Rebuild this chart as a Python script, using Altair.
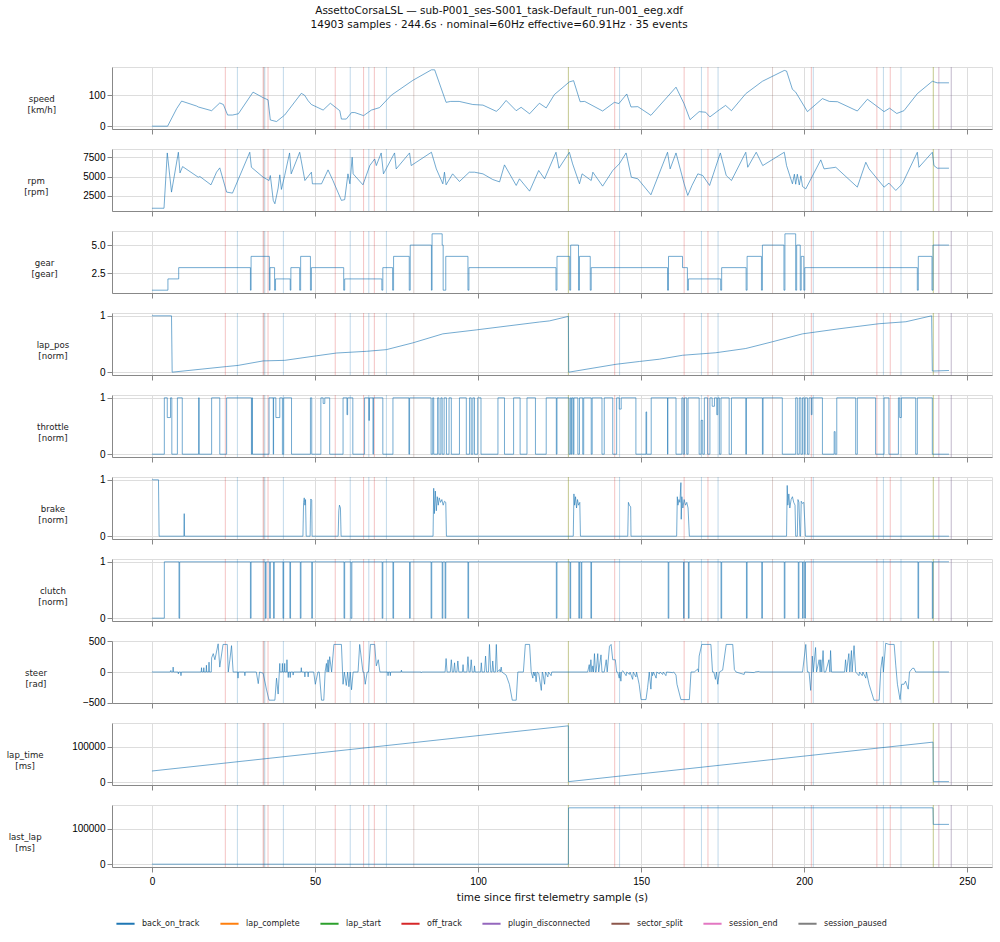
import altair as alt
import pandas as pd

FONT = "DejaVu Sans"
LINE_COLOR = "#1f77b4"

TITLE = "AssettoCorsaLSL — sub-P001_ses-S001_task-Default_run-001_eeg.xdf"
SUBTITLE = "14903 samples · 244.6s · nominal=60Hz effective=60.91Hz · 35 events"
X_TITLE = "time since first telemetry sample (s)"
X_TICKS = [0, 50, 100, 150, 200, 250]
X_DOMAIN = [-12.25, 257.6]

EVENT_TYPES = ["back_on_track", "lap_complete", "lap_start", "off_track",
               "plugin_disconnected", "sector_split", "session_end", "session_paused"]
EVENT_COLORS = ["#1f77b4", "#ff7f0e", "#2ca02c", "#d62728",
                "#9467bd", "#8c564b", "#e377c2", "#7f7f7f"]

event_t = [22.5, 26.2, 34.1, 34.3, 34.6, 35.6, 40.3, 56.2, 60.8, 64.9, 66.5, 68.2,
           71.9, 80.3, 127.7, 127.7, 141.9, 143.4, 163.2, 168.5, 170.5,
           173.6, 190.3, 202.2, 202.8, 222.3, 224.3, 226.4, 229.7, 239.6, 239.6,
           241.3, 241.3, 245.1, 245.1]
event_type = ["off_track", "back_on_track", "off_track", "sector_split", "back_on_track",
              "off_track", "back_on_track", "off_track", "back_on_track", "off_track",
              "back_on_track", "off_track", "back_on_track", "sector_split",
              "lap_complete", "lap_start", "off_track", "back_on_track",
              "off_track", "back_on_track", "off_track", "back_on_track", "sector_split",
              "off_track", "back_on_track", "off_track", "back_on_track", "off_track",
              "back_on_track", "lap_complete", "lap_start",
              "session_paused", "session_end", "plugin_disconnected", "session_paused"]

speed_t = [0, 4.8, 7.6, 9.1, 13.7, 14.2, 18.3, 20.8, 21.9, 23.2, 24.7, 26.5, 31.0, 34.1,
           35.6, 36.3, 38.2, 40.7, 45.8, 46.8, 47.9, 48.9, 52.5, 54.7, 57.6, 58.1, 59.6,
           61.2, 62.2, 64.9, 67.3, 69.8, 73.4, 80.0, 85.7, 86.7, 90.2, 91.6, 94.2, 98.4,
           101.5, 105.6, 106.6, 108.6, 111.7, 113.2, 115.8, 118.8, 120.9, 123.4, 128.0,
           129.3, 131.3, 132.7, 138.2, 141.8, 143.2, 145.6, 146.9, 149.0, 153.0, 160.7,
           163.2, 165.0, 167.8, 169.8, 171.1, 174.0, 175.9, 177.7, 182.1, 187.2, 193.9,
           194.6, 196.4, 197.4, 201.0, 205.6, 207.7, 210.2, 216.3, 219.4, 224.5, 226.2,
           228.4, 230.6, 234.7, 239.3, 240.8, 244.4]
speed_v = [0, 0, 57, 81, 65, 62, 50, 75, 70, 36, 36, 40, 110, 92, 85, 20, 15, 36, 106,
           100, 82, 70, 52, 74, 50, 23, 23, 44, 44, 34, 52, 60, 100, 148, 182, 182, 77,
           80, 80, 70, 68, 48, 57, 83, 50, 61, 40, 74, 59, 102, 143, 147, 79, 80, 49, 77,
           73, 104, 62, 63, 35, 126, 72, 21, 47, 45, 30, 53, 67, 50, 105, 145, 180, 178,
           119, 110, 47, 89, 80, 79, 49, 87, 47, 58, 41, 50, 105, 145, 140, 140]

rpm_pts = [(0, 880), (3.7, 880), (4.7, 8060), (6.0, 2975), (8.1, 8150), (8.6, 5470),
           (9.4, 6290), (14.2, 4910), (14.7, 5000), (18.1, 3920), (19.8, 5560),
           (20.8, 6120), (22.9, 2975), (24.7, 2845), (30.0, 8150), (30.5, 6200),
           (34.1, 4910), (35.9, 4480), (36.3, 5130), (37.2, 1900), (37.7, 1460),
           (38.7, 3500), (39.2, 5215), (39.7, 3320), (40.7, 5130), (42.2, 8060),
           (42.7, 5345), (45.3, 8150), (46.9, 4480), (48.9, 5560), (49.2, 4050),
           (52.0, 4050), (54.0, 5860), (55.5, 4480), (58.1, 1900), (59.1, 2000),
           (60.1, 5345), (60.7, 4050), (61.4, 7500), (61.7, 5345), (64.7, 3920),
           (66.8, 6420), (68.3, 7280), (68.8, 6420), (70.3, 8060), (71.0, 5345),
           (74.4, 8060), (74.9, 5990), (79.0, 8060), (79.5, 6420), (85.7, 8150),
           (87.2, 5990), (89.2, 4050), (89.7, 5560), (90.2, 3920), (92.2, 5345),
           (94.3, 4350), (97.3, 5560), (98.9, 5560), (101.5, 5345), (104.5, 4610),
           (106.6, 4300), (108.1, 6510), (111.7, 3840), (112.7, 4700), (115.8, 3100),
           (118.6, 5780), (120.4, 4700), (123.9, 8150), (124.8, 6080), (128.0, 8150),
           (129.0, 6640), (131.1, 4050), (131.9, 5345), (134.7, 4480), (135.2, 5560),
           (138.2, 3750), (141.3, 5780), (143.3, 6640), (145.4, 8060), (147.0, 4910),
           (149.0, 4700), (153.0, 2630), (158.1, 8150), (158.9, 5990), (160.7, 8060),
           (163.2, 4050), (164.3, 2540), (165.6, 3840), (167.4, 5345), (168.9, 5130),
           (171.0, 3840), (174.3, 8060), (176.1, 5130), (177.7, 4480), (182.1, 8150),
           (182.7, 6200), (185.3, 8150), (187.3, 6420), (193.9, 8150), (194.6, 6420),
           (196.4, 4050), (197.0, 5300), (197.4, 4000), (197.9, 5300), (198.5, 3900),
           (199.0, 5100), (199.5, 3700), (200.5, 3400), (205.1, 7160), (206.1, 5990),
           (209.7, 6200), (216.3, 3620), (218.9, 6850), (219.9, 5990), (224.5, 3620),
           (226.0, 4140), (228.1, 3190), (230.1, 4050), (234.7, 8150), (235.2, 6200),
           (239.3, 8150), (239.8, 6420), (240.8, 6080), (244.4, 6080)]

gear_pts = [(0, 1), (4.9, 2), (8.2, 3), (30.2, 1), (30.4, 4), (36.0, 1), (36.2, 3),
            (37.6, 1), (37.9, 2), (42.4, 1), (42.6, 3), (45.3, 1), (45.6, 4), (48.6, 1),
            (48.9, 3), (58.8, 1), (59.1, 2), (70.5, 1), (70.8, 3), (73.8, 1), (74.1, 4),
            (78.9, 1), (79.2, 5), (85.7, 1), (85.9, 6), (89.0, 5), (89.3, 1), (90.1, 4),
            (96.9, 1), (97.2, 3), (123.9, 1), (124.2, 4), (128.1, 1), (128.4, 5),
            (130.8, 1), (131.1, 4), (134.4, 1), (134.7, 3), (158.1, 1), (158.4, 4),
            (162.7, 3), (164.2, 1), (164.5, 2), (174.4, 1), (174.7, 3), (182.2, 1),
            (182.5, 4), (186.9, 1), (187.2, 5), (193.8, 1), (194.1, 6), (197.4, 1),
            (197.7, 5), (198.8, 1), (199.1, 4), (199.9, 1), (200.2, 3), (234.7, 1),
            (235.0, 4), (239.2, 1), (239.5, 5), (244.4, 5)]

lap_pos_pts = [(0, 1.0), (6.0, 1.0), (6.2, 0.0), (22.9, 0.10), (26.4, 0.12), (34.1, 0.20),
               (40.7, 0.21), (50.4, 0.29), (56.6, 0.34), (65.8, 0.37), (71.9, 0.40),
               (80.0, 0.52), (89.2, 0.68), (99.4, 0.75), (118.8, 0.89), (121.9, 0.91),
               (127.7, 0.99), (127.8, 0.0), (142.3, 0.14), (149.5, 0.19), (155.6, 0.23),
               (162.7, 0.30), (172.9, 0.345), (182.1, 0.42), (190.3, 0.54), (199.5, 0.68),
               (210.7, 0.77), (223.0, 0.86), (231.2, 0.895), (239.1, 1.0), (239.3, 0.02),
               (244.4, 0.03)]

throttle_pts = [(0, 0), (3.8, 1), (4.7, 0.65), (5.7, 1), (6.1, 0), (7.8, 1), (9.3, 0),
                (14.3, 1), (14.5, 0), (18.3, 1), (20.8, 0), (22.9, 1), (30.5, 0), (30.7, 1),
                (30.8, 0), (35.9, 1), (37.2, 0), (37.3, 1), (38.0, 0.65), (39.2, 1),
                (40.0, 0), (40.4, 1), (42.8, 0), (48.6, 1), (49.0, 0), (51.8, 1),
                (52.5, 0.9), (53.0, 1), (54.5, 0), (58.6, 1), (59.8, 0.7), (60.0, 1),
                (61.6, 0), (65.2, 1), (66.5, 0.6), (66.7, 1), (67.8, 0), (67.9, 1),
                (70.8, 0), (73.9, 1), (78.8, 0), (79.0, 1), (85.6, 0), (86.1, 1),
                (86.4, 0), (87.6, 1), (88.0, 0), (88.6, 1), (89.0, 0), (89.6, 1),
                (90.3, 0), (91.1, 1), (91.8, 0), (94.3, 1), (96.4, 0), (97.4, 1),
                (97.9, 0), (98.4, 1), (98.9, 0), (99.9, 1), (100.9, 0), (106.1, 1),
                (108.1, 0), (110.9, 1), (112.9, 0), (115.0, 1), (117.6, 0), (120.9, 1),
                (124.0, 0), (124.2, 1), (127.9, 0), (128.3, 1), (128.6, 0), (128.8, 1),
                (129.2, 0), (129.4, 1), (130.6, 0), (131.1, 1), (132.1, 0), (132.4, 1),
                (134.7, 0), (135.0, 1), (138.0, 0), (138.7, 1), (141.3, 0), (142.5, 1),
                (143.3, 0.8), (143.9, 1), (148.4, 0), (151.5, 0.75), (151.7, 0),
                (153.1, 1), (158.1, 0), (158.2, 1), (160.7, 0), (162.5, 1), (162.9, 0),
                (163.3, 1), (164.0, 0), (164.4, 1), (167.8, 0), (168.4, 0.6), (168.9, 0),
                (169.4, 1), (170.4, 0), (171.1, 1), (171.8, 0.85), (172.5, 1),
                (173.2, 0.7), (173.5, 1), (174.0, 0), (174.5, 1), (177.0, 0), (177.7, 1),
                (182.1, 0), (182.3, 1), (187.2, 0), (187.4, 1), (193.3, 0), (197.4, 1),
                (197.9, 0), (198.5, 1), (199.0, 0), (199.5, 1), (200.0, 0), (200.3, 1),
                (201.0, 0), (201.5, 1), (202.2, 0.7), (202.4, 1), (205.6, 0),
                (209.2, 0.4), (209.5, 0), (210.0, 1), (215.8, 0), (216.3, 1), (221.9, 0),
                (224.5, 1), (226.0, 0), (228.9, 1), (229.3, 0.65), (229.8, 1), (234.2, 0),
                (234.7, 1), (239.3, 0), (244.4, 0)]

brake_pts = [(0, 1.0), (2.0, 1.0), (2.2, 0), (9.8, 0), (9.9, 0.4), (10.0, 0), (46.3, 0),
             (46.5, 0.6), (46.7, 0.68), (46.9, 0.55), (47.1, 0.65), (47.3, 0), (48.5, 0),
             (48.7, 0.66), (49.0, 0.64), (49.1, 0), (57.1, 0), (57.3, 0.45), (57.5, 0.55),
             (57.8, 0.5), (58.0, 0), (86.2, 0), (86.4, 0.85), (86.6, 0.4), (86.9, 0.8),
             (87.2, 0.45), (87.5, 0.7), (87.8, 0.55), (88.1, 0.68), (88.5, 0.6),
             (88.9, 0.65), (89.3, 0.55), (89.7, 0.62), (90.1, 0.6), (90.3, 0),
             (129.2, 0), (129.4, 0.75), (129.6, 0.55), (129.9, 0.7), (130.2, 0.5),
             (130.5, 0.65), (130.8, 0.55), (131.2, 0.6), (131.4, 0), (145.9, 0),
             (146.1, 0.6), (146.4, 0.55), (146.8, 0.52), (146.9, 0), (160.9, 0),
             (161.1, 0.7), (161.3, 0.55), (161.6, 0.65), (161.9, 0.6), (162.2, 0.95),
             (162.3, 0.3), (162.5, 0.7), (162.8, 0.5), (163.2, 0.65), (163.6, 0.55),
             (164.0, 0.6), (164.4, 0.5), (164.8, 0), (194.6, 0), (194.8, 0.9),
             (195.0, 0.55), (195.3, 0.75), (195.6, 0.5), (196.0, 0.65), (196.4, 0.7),
             (196.8, 0.6), (197.2, 0.55), (197.4, 0), (197.9, 0), (198.1, 0.65),
             (198.4, 0.6), (198.7, 0), (198.9, 0), (199.1, 0.62), (199.5, 0.58),
             (199.9, 0.6), (200.4, 0), (244.4, 0)]

clutch_pts = [(0, 0), (3.8, 1), (8.3, 0), (8.5, 1), (30.2, 0), (30.4, 1), (34.8, 0),
              (35.0, 1), (36.1, 0), (36.3, 1), (37.3, 0), (37.5, 1), (40.2, 0), (40.4, 1),
              (42.3, 0), (42.5, 1), (45.5, 0), (45.7, 1), (49.0, 0), (49.2, 1), (58.9, 0),
              (59.1, 1), (61.0, 0), (61.3, 1), (70.6, 0), (70.8, 1), (73.9, 0), (74.1, 1),
              (79.0, 0), (79.2, 1), (85.6, 0), (85.8, 1), (89.0, 0), (89.2, 1), (89.9, 0),
              (90.1, 1), (96.9, 0), (97.1, 1), (124.0, 0), (124.2, 1), (128.2, 0),
              (128.4, 1), (130.9, 0), (131.1, 1), (131.6, 0), (131.8, 1), (134.6, 0),
              (134.8, 1), (158.3, 0), (158.5, 1), (163.0, 0), (163.2, 1), (164.5, 0),
              (164.7, 1), (174.5, 0), (174.7, 1), (182.3, 0), (182.5, 1), (187.0, 0),
              (187.2, 1), (193.9, 0), (194.1, 1), (198.2, 0), (198.4, 1), (199.5, 0),
              (199.7, 1), (200.2, 0), (200.4, 1), (234.9, 0), (235.1, 1), (239.3, 0),
              (239.5, 1), (244.4, 1)]

steer_pts = [(0, 0), (5.6, 0), (5.8, 25), (5.9, 0), (6.4, 0), (6.5, 80), (6.6, 0), (8.0, 0),
             (8.1, -30), (8.2, 0), (8.8, 0), (8.9, -60), (9.0, 0), (15.1, 0), (15.2, 70),
             (15.3, 0), (15.8, 0), (15.9, 70), (16.0, 0), (16.6, 0), (16.7, 110), (16.8, 0),
             (17.4, 0), (17.5, 160), (17.6, 0), (18.2, 0), (18.3, 230), (18.8, 300),
             (19.3, 200), (20.3, 460), (20.8, 80), (21.8, 450), (23.1, 450), (23.4, 0),
             (23.9, 200), (24.4, 430), (24.9, 0), (26.3, 0), (26.4, -100), (26.5, 0),
             (28.4, 0), (28.5, -60), (28.6, 0), (32.0, 0), (32.6, -190), (33.0, 0),
             (34.1, -20), (35.1, -280), (35.9, -460), (37.7, -460), (38.2, -100),
             (38.7, -360), (39.2, 140), (39.3, 0), (39.9, 0), (40.0, 140), (40.1, 0),
             (40.6, 0), (40.7, 140), (40.8, 0), (41.3, 0), (41.4, 200), (41.5, 0),
             (41.7, 0), (41.8, -90), (41.9, 0), (42.3, 0), (42.4, -90), (42.5, 0),
             (43.2, 0), (43.3, -50), (43.4, 0), (45.7, 0), (45.8, 70), (45.9, 0),
             (46.8, 0), (46.9, -80), (47.0, 0), (47.8, 0), (47.9, -80), (48.0, 0),
             (49.6, 0), (50.1, -200), (50.9, 0), (51.3, 0), (52.0, -460), (52.7, -460),
             (53.1, 0), (53.5, 140), (53.7, 0), (54.0, 200), (54.2, 0), (54.5, 250),
             (55.1, 0), (55.8, 450), (58.1, 450), (58.6, -200), (59.0, 0), (59.6, -220),
             (60.0, 0), (60.4, -240), (60.8, 0), (61.2, -290), (61.7, 0), (63.2, 0),
             (63.7, 450), (64.7, 0), (65.0, 0), (65.4, -200), (66.0, 0), (66.4, 0),
             (67.0, 450), (68.3, 450), (68.8, 100), (69.4, 200), (69.9, 0), (72.3, 0),
             (72.4, -60), (72.5, 0), (73.0, 0), (73.1, -60), (73.2, 0), (76.4, 0),
             (76.5, 30), (76.6, 0), (82.5, 0), (82.6, -10), (82.7, 0), (89.9, 0),
             (90.2, 220), (90.5, 0), (91.5, 0), (91.8, 200), (92.1, 0), (92.5, 0),
             (92.8, 150), (93.0, 0), (93.5, 0), (93.8, 180), (94.1, 0), (95.2, 0),
             (95.4, 120), (95.6, 0), (96.6, 0), (96.9, 250), (97.2, 0), (97.6, 0),
             (97.9, 200), (98.2, 0), (98.8, 0), (98.9, 100), (99.1, 0), (100.8, 0),
             (101.0, 150), (101.2, 0), (102.0, 0), (102.3, 260), (102.6, 0), (103.2, 0),
             (103.5, 450), (103.9, 0), (104.3, 0), (104.5, 180), (104.8, 0), (105.3, 0),
             (105.6, 450), (105.9, 0), (106.6, 40), (106.8, 0), (107.1, 80), (107.3, 0),
             (108.6, -50), (109.6, -200), (110.5, -460), (111.7, -460), (112.2, 0),
             (113.9, 0), (114.5, 450), (115.8, 450), (116.3, 0), (116.8, -100),
             (117.0, 0), (117.3, -60), (117.5, 0), (117.8, -160), (118.1, 0),
             (118.6, -20), (119.4, -300), (119.7, 0), (119.9, -30), (120.4, -200),
             (120.7, 0), (121.4, -80), (121.6, 0), (122.4, -60), (122.6, 0), (133.6, 0),
             (134.1, 120), (134.3, 0), (134.6, 200), (134.9, 0), (135.2, 100), (135.4, 0),
             (135.7, 300), (136.0, 0), (136.2, 0), (136.7, 300), (137.0, 0), (137.7, 280),
             (138.0, 0), (138.7, 0), (139.3, 200), (139.6, 0), (140.3, 420), (140.8, 450),
             (141.3, 200), (142.1, 200), (142.5, 0), (142.8, 0), (143.3, -100),
             (143.5, 0), (143.8, -150), (144.0, 0), (144.4, 20), (145.4, -60),
             (145.6, 0), (146.4, -40), (146.6, 0), (147.4, -120), (147.6, 0),
             (148.4, -80), (148.6, 0), (149.4, -200), (150.0, -450), (151.5, -450),
             (152.0, -250), (152.5, 0), (153.0, -280), (153.3, 0), (153.5, -60),
             (153.8, 0), (154.6, -100), (154.8, 0), (155.6, -30), (155.8, 0),
             (156.6, -40), (156.8, 0), (157.6, -60), (157.8, 0), (159.7, -10),
             (160.0, 0), (160.7, -50), (161.0, -200), (162.2, -450), (164.8, -450),
             (165.3, 0), (166.3, 0), (167.4, 50), (167.6, 0), (167.8, 260), (168.6, 450),
             (171.4, 450), (171.9, 0), (172.3, 0), (172.8, -120), (173.1, 0),
             (173.5, -200), (174.0, 0), (175.0, 30), (176.1, 450), (178.1, 450),
             (178.6, 40), (179.1, 0), (181.6, -40), (181.8, 0), (184.7, -10), (184.9, 0),
             (186.2, 10), (186.4, 0), (199.5, 0), (200.5, 450), (201.0, 0), (201.5, 0),
             (202.0, -300), (202.3, 0), (202.5, 260), (202.8, 0), (203.5, 400),
             (203.8, 0), (204.6, 200), (204.9, 0), (205.1, 200), (205.4, 0),
             (205.8, 350), (206.1, 0), (206.6, 0), (207.6, 200), (207.9, 0),
             (208.1, 350), (208.4, 0), (212.4, 0), (212.7, 200), (213.0, 0),
             (213.7, 300), (214.0, 0), (214.5, 350), (214.7, 0), (215.3, 430),
             (215.8, 0), (216.8, -60), (217.0, 0), (217.8, -60), (218.0, 0),
             (218.9, -100), (219.1, 0), (219.9, -200), (221.4, -460), (223.0, -460),
             (223.5, 50), (224.0, 250), (224.3, 0), (225.0, 470), (226.0, 450),
             (227.6, 450), (228.1, 100), (228.6, -200), (229.4, -450), (229.9, -200),
             (230.6, -200), (231.1, -150), (231.9, -280), (232.3, 0), (233.2, 60),
             (233.7, 60), (234.2, 0), (244.4, 0)]

lap_time_pts = [(0, 31500), (127.7, 159000), (127.75, 1500), (239.5, 113000),
                (239.6, 1500), (244.4, 1500)]
last_lap_pts = [(0, 0), (127.7, 0), (127.75, 158500), (239.5, 158500),
                (239.6, 111900), (244.4, 111900)]

# name, unit, points, interpolation, y-domain, y-ticks, tick format
PANELS = [
    ("speed", "km/h", list(zip(speed_t, speed_v)), "linear", [-9.1, 191.1], [0, 100], "d"),
    ("rpm", "rpm", rpm_pts, "linear", [521, 8573], [2500, 5000, 7500], "d"),
    ("gear", "gear", gear_pts, "step-after", [0.75, 6.25], [2.5, 5.0], ".1f"),
    ("lap_pos", "norm", lap_pos_pts, "linear", [-0.05, 1.05], [0, 1], "d"),
    ("throttle", "norm", throttle_pts, "step-after", [-0.05, 1.05], [0, 1], "d"),
    ("brake", "norm", brake_pts, "linear", [-0.05, 1.05], [0, 1], "d"),
    ("clutch", "norm", clutch_pts, "step-after", [-0.05, 1.05], [0, 1], "d"),
    ("steer", "rad", steer_pts, "linear", [-506, 506], [-500, 0, 500], "d"),
    ("lap_time", "ms", lap_time_pts, "linear", [-7950, 166950], [0, 100000], "d"),
    ("last_lap", "ms", last_lap_pts, "linear", [-7925, 166425], [0, 100000], "d"),
]

PANEL_W = 880
PANEL_H = 62

events_df = pd.DataFrame({"t": event_t, "type": event_type})

color_enc = alt.Color(
    "type:N",
    scale=alt.Scale(domain=EVENT_TYPES, range=EVENT_COLORS),
    legend=alt.Legend(
        title=None, orient="none", legendX=3, legendY=846, direction="horizontal",
        columns=8, symbolType="stroke", symbolSize=330, symbolStrokeWidth=2,
        symbolOpacity=1, labelFontSize=8, labelFont=FONT, labelColor="#222",
        columnPadding=16, labelOffset=6,
    ),
)


def make_panel(i, spec):
    name, unit, pts, interp, dom, ticks, fmt = spec
    last = i == len(PANELS) - 1
    df = pd.DataFrame(pts, columns=["t", "v"])
    if last:
        x_axis = alt.Axis(values=X_TICKS, labels=True, title=X_TITLE, grid=True,
                          labelPadding=4, titleFontSize=10.5, titlePadding=6,
                          titleFontWeight="normal", titleFont=FONT, titleColor="#111")
    else:
        x_axis = alt.Axis(values=X_TICKS, labels=False, title=None, grid=True)
    x_enc = alt.X("t:Q", scale=alt.Scale(domain=X_DOMAIN, nice=False, zero=False),
                  axis=x_axis)
    rules = alt.Chart(events_df).mark_rule(strokeWidth=1, opacity=0.28).encode(
        x=x_enc, color=color_enc)
    line = alt.Chart(df).mark_line(color=LINE_COLOR, strokeWidth=1, opacity=0.62,
                                   interpolate=interp).encode(
        x=x_enc,
        y=alt.Y("v:Q", scale=alt.Scale(domain=dom, nice=False, zero=False),
                axis=alt.Axis(values=ticks, format=fmt, grid=True,
                              title=[name, "[" + unit + "]"], titleAngle=0,
                              titleAlign="center", titleBaseline="middle",
                              titleY=PANEL_H / 2, titlePadding=36,
                              titleFontSize=8.6, titleLineHeight=11,
                              titleFontWeight="normal", titleFont=FONT,
                              titleColor="#222")),
    )
    return alt.layer(rules, line).properties(width=PANEL_W, height=PANEL_H)


chart = alt.vconcat(*[make_panel(i, p) for i, p in enumerate(PANELS)],
                    spacing=20, bounds="flush").properties(
    title=alt.TitleParams(text=[TITLE, SUBTITLE], font=FONT, fontSize=10.5,
                          fontWeight="normal", anchor="middle", color="#111",
                          lineHeight=14, offset=36),
    padding={"left": 5, "right": 5, "top": 5, "bottom": 5},
).configure_view(
    stroke="#333333", strokeWidth=1.1
).configure_axis(
    labelFont=FONT, labelFontSize=10.5, labelColor="#222", tickColor="#222",
    tickSize=3.5, tickWidth=0.8, labelPadding=2.5, domain=False,
    gridColor="#b0b0b0", gridOpacity=0.3, gridWidth=0.8,
    titleFont=FONT, titleFontWeight="normal", titleColor="#222",
).configure(background="white")

chart.save("out.html", embed_options={"renderer": "svg", "actions": False})
